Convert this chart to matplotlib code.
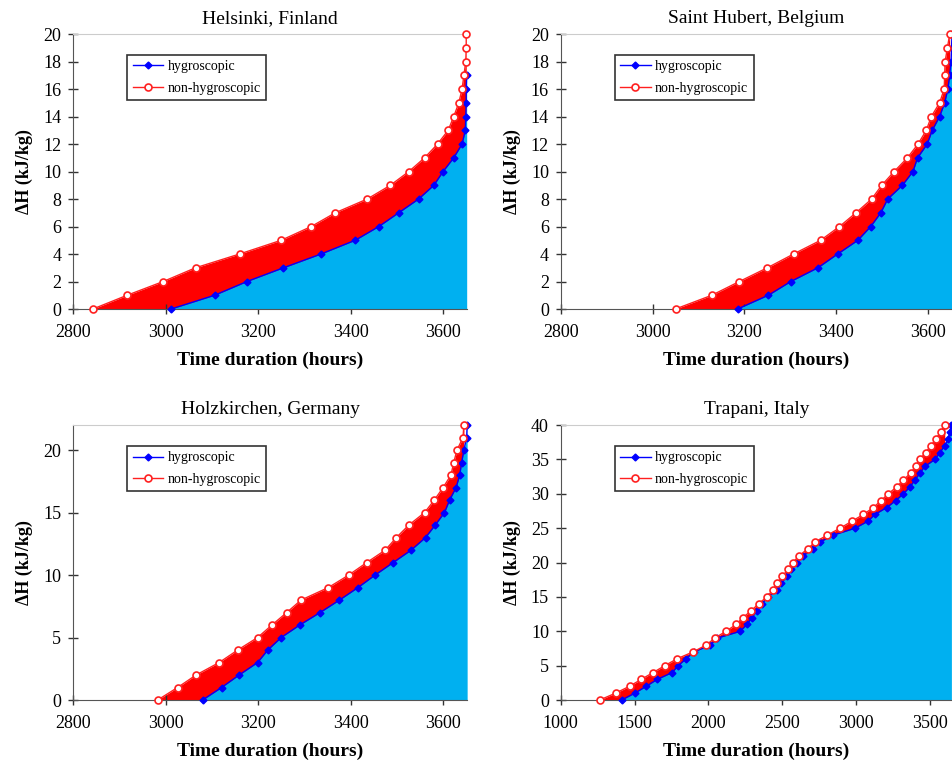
import matplotlib.pyplot as plt

plt.rcParams['font.family'] = ['Liberation Serif', 'DejaVu Serif']

titles = ['Helsinki, Finland', 'Saint Hubert, Belgium',
          'Holzkirchen, Germany', 'Trapani, Italy']

# time (hours) at which each integer step of dH (kJ/kg) is reached
hel_non = [2843, 2917, 2995, 3065, 3160, 3250, 3315, 3367, 3436, 3486, 3526,
           3560, 3588, 3611, 3623, 3634, 3641, 3645, 3649, 3650, 3650]
hel_hyg = [3012, 3106, 3176, 3255, 3336, 3410, 3461, 3504, 3547, 3580, 3600,
           3623, 3641, 3648, 3649, 3650, 3650, 3651]

sth_non = [3050, 3129, 3189, 3250, 3307, 3366, 3407, 3443, 3477, 3499, 3526,
           3555, 3578, 3596, 3607, 3625, 3635, 3636, 3637, 3642, 3647]
sth_hyg = [3185, 3252, 3301, 3360, 3403, 3447, 3475, 3497, 3512, 3544, 3567,
           3577, 3598, 3609, 3625, 3636, 3643, 3647, 3650, 3651, 3652]

hol_non = [2983, 3026, 3066, 3116, 3156, 3199, 3230, 3262, 3293, 3352, 3396,
           3435, 3475, 3499, 3526, 3560, 3581, 3600, 3617, 3623, 3630, 3643,
           3645]
hol_hyg = [3080, 3121, 3159, 3199, 3221, 3250, 3290, 3334, 3376, 3416, 3453,
           3492, 3531, 3562, 3583, 3603, 3614, 3628, 3636, 3640, 3645, 3651,
           3652]

tra_non = [1264, 1372, 1466, 1545, 1626, 1705, 1788, 1896, 1986, 2043, 2119,
           2189, 2234, 2291, 2340, 2396, 2437, 2466, 2502, 2538, 2572, 2615,
           2673, 2723, 2806, 2892, 2971, 3050, 3117, 3169, 3218, 3275, 3320,
           3369, 3403, 3432, 3471, 3507, 3541, 3574, 3601]
tra_hyg = [1412, 1502, 1579, 1653, 1755, 1795, 1849, 1901, 2014, 2059, 2216,
           2261, 2295, 2329, 2363, 2401, 2466, 2493, 2532, 2561, 2599, 2644,
           2707, 2757, 2847, 2993, 3079, 3128, 3207, 3268, 3320, 3365, 3399,
           3432, 3466, 3534, 3568, 3601, 3624, 3635, 3646]

non_series = [hel_non, sth_non, hol_non, tra_non]
hyg_series = [hel_hyg, sth_hyg, hol_hyg, tra_hyg]

xlims = [(2800, 3652), (2800, 3652), (2800, 3652), (1000, 3650)]
xticks = [range(2800, 3601, 200), range(2800, 3601, 200),
          range(2800, 3601, 200), range(1000, 3501, 500)]
ylims = [(0, 20), (0, 20), (0, 22), (0, 40)]
yticks = [range(0, 21, 2), range(0, 21, 2), range(0, 21, 5), range(0, 41, 5)]

positions = [[0.0767, 0.5987, 0.414, 0.357],
             [0.589, 0.5987, 0.411, 0.357],
             [0.0767, 0.0909, 0.414, 0.357],
             [0.589, 0.0909, 0.411, 0.357]]

fig = plt.figure(figsize=(9.52, 7.7), dpi=100)

for i in range(4):
    ax = fig.add_axes(positions[i])
    t_non = non_series[i]
    t_hyg = hyg_series[i]
    h_non = list(range(len(t_non)))
    h_hyg = list(range(len(t_hyg)))

    ax.fill_between(t_non, h_non, 0, color='#ff0000', lw=0, zorder=1)
    ax.fill_between(t_hyg, h_hyg, 0, color='#00b0f0', lw=0, zorder=2)
    ax.plot(t_hyg, h_hyg, color='#0000ff', lw=1, marker='D', ms=3.5,
            mfc='#0000ff', mec='#0000ff', label='hygroscopic', zorder=3,
            clip_on=False)
    ax.plot(t_non, h_non, color='#ff2020', lw=1, marker='o', ms=5,
            mfc='white', mec='#ff2020', mew=1.2, label='non-hygroscopic',
            zorder=4, clip_on=False)

    ax.set_xlim(*xlims[i])
    ax.set_ylim(*ylims[i])
    ax.set_xticks(list(xticks[i]))
    ax.set_yticks(list(yticks[i]))
    ax.tick_params(direction='inout', length=7, width=1, colors='#333333',
                   labelsize=13, labelcolor='black')
    ax.tick_params(axis='x', pad=7)
    ax.tick_params(axis='y', pad=5)

    ax.spines['right'].set_visible(False)
    ax.spines['top'].set_color('#cccccc')
    ax.spines['left'].set_color('#555555')
    ax.spines['bottom'].set_color('#555555')

    ax.set_title(titles[i], fontsize=14, pad=8)
    ax.set_xlabel('Time duration (hours)', fontsize=14, fontweight='bold',
                  labelpad=8)
    ax.set_ylabel('ΔH (kJ/kg)', fontsize=13, fontweight='bold', labelpad=7)

    leg = ax.legend(loc='upper left', bbox_to_anchor=(0.12, 0.95),
                    fontsize=10, fancybox=False, framealpha=1,
                    edgecolor='#333333', handlelength=2.2, borderpad=0.4,
                    labelspacing=0.6, handletextpad=0.3)
    leg.get_frame().set_linewidth(1.2)

fig.savefig('out.png', dpi=100)
